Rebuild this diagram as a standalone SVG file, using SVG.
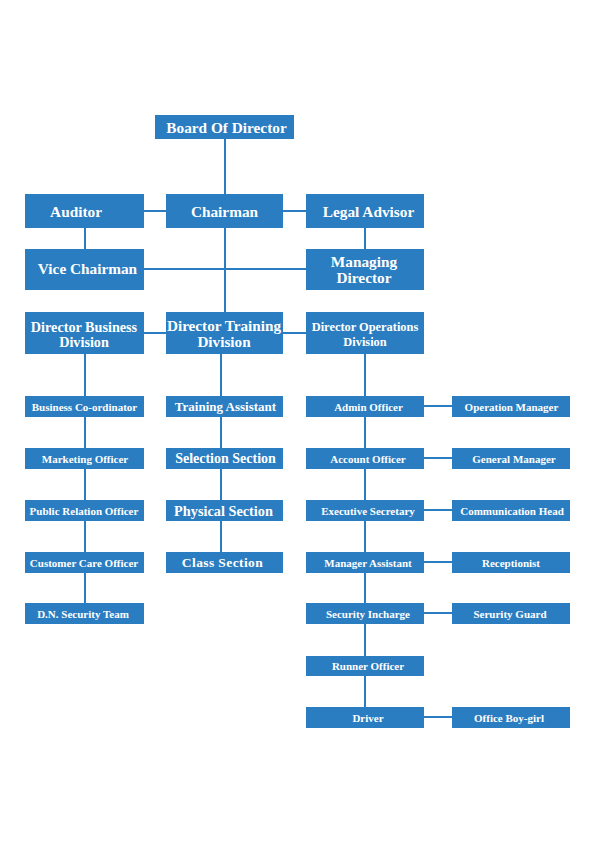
<svg xmlns="http://www.w3.org/2000/svg" width="596" height="843" viewBox="0 0 596 843">
<style>
.b{fill:#2a7dc0}
.t{fill:#fff;font-family:"Liberation Serif","DejaVu Serif",serif;font-weight:bold;text-anchor:middle;dominant-baseline:central}
.l{stroke:#2a7dc0;stroke-width:2;fill:none}
.s{font-size:11px}
.g{font-size:15.3px}
</style>
<rect width="596" height="843" fill="#fff"/>
<g id="connectors" class="l">
<path d="M225 139V194M225 228V312"/>
<path d="M144 211H166M283 211H306"/>
<path d="M85 228V249M365 228V249M144 269H306"/>
<path d="M144 333H166M283 333H306"/>
<path d="M85 354V603"/>
<path d="M221 354V552"/>
<path d="M365 354V707"/>
<path d="M424 406H452M424 458H452M424 510H452M424 562H452M424 613H452M424 717H452"/>
</g>
<g id="board"><rect class="b" x="155" y="115" width="139" height="24"/><text class="t g" x="226.5" y="127">Board Of Director</text></g>
<g id="auditor"><rect class="b" x="25" y="194" width="119" height="34"/><text class="t g" x="76" y="211">Auditor</text></g>
<g id="chairman"><rect class="b" x="166" y="194" width="117" height="34"/><text class="t g" x="224.5" y="211">Chairman</text></g>
<g id="legal"><rect class="b" x="306" y="194" width="118" height="34"/><text class="t g" x="368.5" y="211">Legal Advisor</text></g>
<g id="vice"><rect class="b" x="25" y="249" width="119" height="41"/><text class="t g" x="87.5" y="268">Vice Chairman</text></g>
<g id="managing"><rect class="b" x="306" y="249" width="118" height="41"/><text class="t g" x="364" y="261">Managing</text><text class="t g" x="364" y="277">Director</text></g>
<g id="dir-business"><rect class="b" x="25" y="312" width="119" height="42"/><text class="t" style="font-size:14.2px" x="84" y="327">Director Business</text><text class="t" style="font-size:14.2px" x="84" y="342">Division</text></g>
<g id="dir-training"><rect class="b" x="166" y="312" width="117" height="42"/><text class="t" style="font-size:15.2px" x="224" y="325.5">Director Training</text><text class="t" style="font-size:15.2px" x="224" y="341">Division</text></g>
<g id="dir-operations"><rect class="b" x="306" y="312" width="118" height="42"/><text class="t" style="font-size:12.4px" x="365" y="327">Director Operations</text><text class="t" style="font-size:12.4px" x="365" y="342">Division</text></g>
<g id="business-coordinator"><rect class="b" x="25" y="396" width="119" height="21"/><text class="t s" x="84.5" y="406.5">Business Co-ordinator</text></g>
<g id="marketing"><rect class="b" x="25" y="448" width="119" height="21"/><text class="t s" x="85" y="458.5">Marketing Officer</text></g>
<g id="public-relation"><rect class="b" x="25" y="500" width="119" height="21"/><text class="t s" x="84" y="510.5">Public Relation Officer</text></g>
<g id="customer-care"><rect class="b" x="25" y="552" width="119" height="21"/><text class="t s" x="84" y="562.5">Customer Care Officer</text></g>
<g id="dn-security"><rect class="b" x="25" y="603" width="119" height="21"/><text class="t s" x="83" y="613.5">D.N. Security Team</text></g>
<g id="training-assistant"><rect class="b" x="166" y="396" width="117" height="21"/><text class="t" style="font-size:13px" x="225.5" y="406.5">Training Assistant</text></g>
<g id="selection"><rect class="b" x="166" y="448" width="117" height="21"/><text class="t" style="font-size:14px" x="225.5" y="458.5">Selection Section</text></g>
<g id="physical"><rect class="b" x="166" y="500" width="117" height="21"/><text class="t" style="font-size:14.3px" x="223.5" y="510.5">Physical Section</text></g>
<g id="class"><rect class="b" x="166" y="552" width="117" height="21"/><text class="t" style="font-size:13.5px;letter-spacing:0.4px" x="222.5" y="562.5">Class Section</text></g>
<g id="admin"><rect class="b" x="306" y="396" width="118" height="21"/><text class="t s" x="368.5" y="406.5">Admin Officer</text></g>
<g id="account"><rect class="b" x="306" y="448" width="118" height="21"/><text class="t s" x="368" y="458.5">Account Officer</text></g>
<g id="executive"><rect class="b" x="306" y="500" width="118" height="21"/><text class="t s" x="368" y="510.5">Executive Secretary</text></g>
<g id="manager-assistant"><rect class="b" x="306" y="552" width="118" height="21"/><text class="t s" x="368" y="562.5">Manager Assistant</text></g>
<g id="security-incharge"><rect class="b" x="306" y="603" width="118" height="21"/><text class="t s" x="368" y="613.5">Security Incharge</text></g>
<g id="runner"><rect class="b" x="306" y="656" width="118" height="20"/><text class="t s" x="368" y="666">Runner Officer</text></g>
<g id="driver"><rect class="b" x="306" y="707" width="118" height="21"/><text class="t s" x="368" y="717.5">Driver</text></g>
<g id="operation-manager"><rect class="b" x="452" y="396" width="118" height="21"/><text class="t s" x="511.5" y="406.5">Operation Manager</text></g>
<g id="general-manager"><rect class="b" x="452" y="448" width="118" height="21"/><text class="t s" x="514" y="458.5">General Manager</text></g>
<g id="communication-head"><rect class="b" x="452" y="500" width="118" height="21"/><text class="t s" x="512" y="510.5">Communication Head</text></g>
<g id="receptionist"><rect class="b" x="452" y="552" width="118" height="21"/><text class="t s" x="511" y="562.5">Receptionist</text></g>
<g id="security-guard"><rect class="b" x="452" y="603" width="118" height="21"/><text class="t s" x="510" y="613.5">Serurity Guard</text></g>
<g id="office-boy"><rect class="b" x="452" y="707" width="118" height="21"/><text class="t s" x="509" y="717.5">Office Boy-girl</text></g>
</svg>
